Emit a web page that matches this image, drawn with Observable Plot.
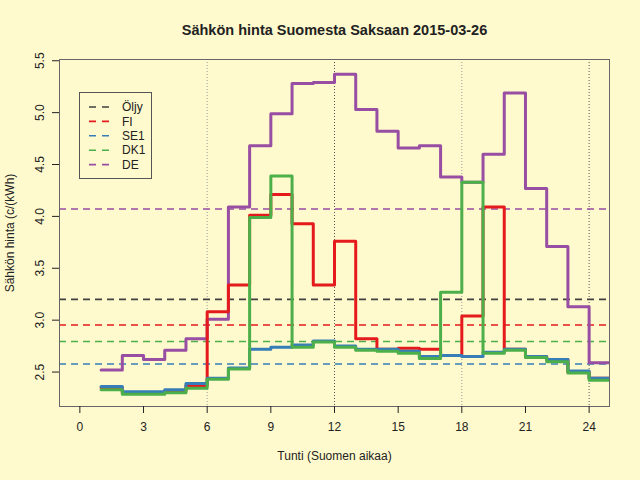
<!DOCTYPE html>
<html><head><meta charset="utf-8">
<script src="https://cdn.jsdelivr.net/npm/d3@7"></script>
<script src="https://cdn.jsdelivr.net/npm/@observablehq/plot@0.6"></script>
<style>
html,body{margin:0;padding:0;background:#FFFACD;}
#chart{position:relative;width:640px;height:480px;}
#legend{position:absolute;left:79px;top:92px;}
</style></head><body><div id="chart"></div>
<script>
const hours = d3.range(1, 25);
const DE  = [2.52, 2.66, 2.62, 2.71, 2.82, 3.01, 4.09, 4.68, 4.99, 5.28, 5.29, 5.37, 5.03, 4.82, 4.66, 4.68, 4.38, 4.33, 4.60, 5.19, 4.27, 3.71, 3.13, 2.59];
const FI  = [2.35, 2.30, 2.30, 2.32, 2.37, 3.08, 3.34, 4.01, 4.21, 3.93, 3.34, 3.76, 2.82, 2.72, 2.73, 2.72, 2.66, 3.04, 4.09, 2.72, 2.65, 2.62, 2.50, 2.44];
const SE1 = [2.36, 2.31, 2.31, 2.33, 2.39, 2.44, 2.54, 2.72, 2.74, 2.76, 2.80, 2.75, 2.72, 2.72, 2.70, 2.65, 2.66, 2.65, 2.69, 2.72, 2.65, 2.62, 2.51, 2.44];
const DK1 = [2.33, 2.285, 2.285, 2.30, 2.345, 2.43, 2.53, 3.99, 4.39, 2.74, 2.79, 2.74, 2.71, 2.70, 2.68, 2.63, 3.27, 4.33, 2.68, 2.71, 2.64, 2.60, 2.49, 2.42];

const drawOrder = ["DE", "FI", "SE1", "DK1"];
const seriesValues = {DE, FI, SE1, DK1};
const colors = {"Öljy": "#404040", FI: "#E41A1C", SE1: "#377EB8", DK1: "#4DAF4A", DE: "#984EA3"};

const refNames  = ["Öljy", "FI", "SE1", "DK1", "DE"];
const refValues = [3.20, 2.953, 2.577, 2.795, 4.072];

const xTicks = [0, 3, 6, 9, 12, 15, 18, 21, 24];
const yTicks = [2.5, 3.0, 3.5, 4.0, 4.5, 5.0, 5.5];
const gridHours = [6, 12, 18, 24];

const title = "Sähkön hinta Suomesta Saksaan 2015-03-26";
const xLabel = "Tunti (Suomen aikaa)";
const yLabel = "Sähkön hinta (c/(kWh)";

// build step rows: value for hour h spans h..h+1
const rows = [];
for (const s of drawOrder) {
  const vals = seriesValues[s];
  hours.forEach((h, i) => rows.push({series: s, hour: h, value: vals[i], color: colors[s]}));
  rows.push({series: s, hour: hours[hours.length - 1] + 1, value: vals[vals.length - 1], color: colors[s]});
}
const refs = refNames.map((n, i) => ({name: n, value: refValues[i], color: colors[n]}));

const font = "'Liberation Sans', Arial, Helvetica, sans-serif";

const plot = Plot.plot({
  width: 640, height: 480,
  marginLeft: 59, marginRight: 31, marginTop: 59, marginBottom: 74,
  style: {background: "#FFFACD", fontFamily: font, fontSize: "12px", color: "#222"},
  x: {domain: [-0.96, 24.96]},
  y: {domain: [2.168, 5.512]},
  color: {type: "identity"},
  marks: [
    Plot.ruleX(gridHours, {x: d => d, stroke: d => d % 12 === 0 ? "#555555" : "#9a9a9a", strokeDasharray: "1,2", strokeWidth: 1}),
    Plot.ruleY(refs, {y: "value", stroke: "color", strokeWidth: 1.6, strokeDasharray: "7,5"}),
    Plot.line(rows, {x: "hour", y: "value", z: "series", stroke: "color", strokeWidth: 3, curve: "step-after", clip: true}),
    Plot.frame({stroke: "#666"}),
    Plot.axisX({ticks: xTicks, tickSize: 7, tickPadding: 9, label: null, fontSize: 12}),
    Plot.axisY({ticks: yTicks, tickSize: 7, tickPadding: 9, tickRotate: -90, tickFormat: d3.format(".1f"), label: null, fontSize: 12}),
    Plot.text([title], {frameAnchor: "top", dy: -29, lineAnchor: "middle", fontWeight: "bold", fontSize: 14.5, fill: "#222"}),
    Plot.text([xLabel], {frameAnchor: "bottom", dy: 50, lineAnchor: "middle", fontSize: 12, fill: "#222"}),
    Plot.text([yLabel], {frameAnchor: "left", dx: -49, rotate: -90, textAnchor: "middle", lineAnchor: "middle", fontSize: 12, fill: "#222"})
  ]
});
const chart = document.getElementById("chart");
chart.appendChild(plot);

// legend overlay
const lw = 73, lh = 87;
const leg = d3.select(chart).append("svg").attr("id", "legend")
  .attr("width", lw).attr("height", lh)
  .style("font-family", font).style("font-size", "12px");
leg.append("rect").attr("x", 0.5).attr("y", 0.5).attr("width", lw - 1).attr("height", lh - 1)
  .attr("fill", "none").attr("stroke", "#555");
refNames.forEach((n, i) => {
  const y = 15 + i * 14.4;
  leg.append("line").attr("x1", 10).attr("x2", 30).attr("y1", y).attr("y2", y)
    .attr("stroke", colors[n]).attr("stroke-width", 1.6).attr("stroke-dasharray", "7,6");
  leg.append("text").attr("x", 43).attr("y", y).attr("dy", "0.35em").attr("fill", "#222").text(n);
});
</script></body></html>
